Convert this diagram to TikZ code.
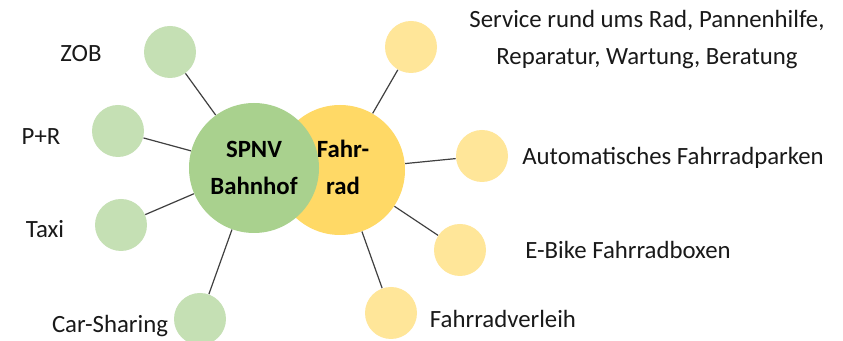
\documentclass[tikz,border=0pt]{standalone}
\usepackage{fontspec}
\setmainfont{Carlito}
\definecolor{hubgreen}{HTML}{A9D18E}
\definecolor{satgreen}{HTML}{C5E0B4}
\definecolor{hubyellow}{HTML}{FFD966}
\definecolor{satyellow}{HTML}{FFE699}
\definecolor{linkgray}{HTML}{404040}
\tikzset{
  hub/.style={circle, minimum size=65pt, inner sep=0pt, align=center,
    font=\fontsize{12.4}{18.5}\selectfont\bfseries},
  sat/.style={circle, minimum size=26pt, inner sep=0pt},
  lbl/.style={anchor=base, font=\fontsize{12.4}{18.5}\selectfont, text=black!90},
  link/.style={draw=linkgray, line width=0.6pt}
}
\begin{document}
\begin{tikzpicture}[x=0.5pt, y=-0.5pt]
		\clip (0,0) rectangle (843,341);
		\fill[white] (0,0) rectangle (843,341);

		\node[hub, fill=hubyellow] (rad) at ( 340, 170 ) {};
		\node[hub, fill=hubgreen] (spnv) at ( 254, 168 ) { SPNV\\ Bahnhof };
		\node[hub, minimum size=0pt] (radtext) at ( 343, 167 ) { Fahr-\\ rad };

		\node[sat, fill=satgreen] (zob) at ( 170, 52 ) {};
		\node[sat, fill=satgreen] (pr) at ( 118, 131 ) {};
		\node[sat, fill=satgreen] (taxi) at ( 121, 225 ) {};
		\node[sat, fill=satgreen] (carsharing) at ( 200, 319 ) {};

		\node[sat, fill=satyellow] (service) at ( 411, 47 ) {};
		\node[sat, fill=satyellow] (parken) at ( 482, 156 ) {};
		\node[sat, fill=satyellow] (ebike) at ( 460, 250 ) {};
		\node[sat, fill=satyellow] (verleih) at ( 391, 313 ) {};

		\draw[link](zob) -- (spnv);
		\draw[link](pr) -- (spnv);
		\draw[link](taxi) -- (spnv);
		\draw[link](carsharing) -- (spnv);
		\draw[link](service) -- (rad);
		\draw[link](parken) -- (rad);
		\draw[link](ebike) -- (rad);
		\draw[link](verleih) -- (rad);

		\node[lbl] (zoblabel) at ( 81, 62 ) { ZOB };
		\node[lbl] (prlabel) at ( 41, 145 ) { P+R };
		\node[lbl] (taxilabel) at ( 45, 238 ) { Taxi };
		\node[lbl] (carsharinglabel) at ( 110, 333 ) { Car-Sharing };
		\node[lbl, anchor=center, align=center] (servicelabel) at ( 647, 40 ) { Service rund ums Rad, Pannenhilfe,\\ Reparatur, Wartung, Beratung };
		\node[lbl] (parkenlabel) at ( 673, 165 ) { Automatisches Fahrradparken };
		\node[lbl] (ebikelabel) at ( 628, 259 ) { E-Bike Fahrradboxen };
		\node[lbl] (verleihlabel) at ( 503, 328 ) { Fahrradverleih };
	\end{tikzpicture}
\end{document}
